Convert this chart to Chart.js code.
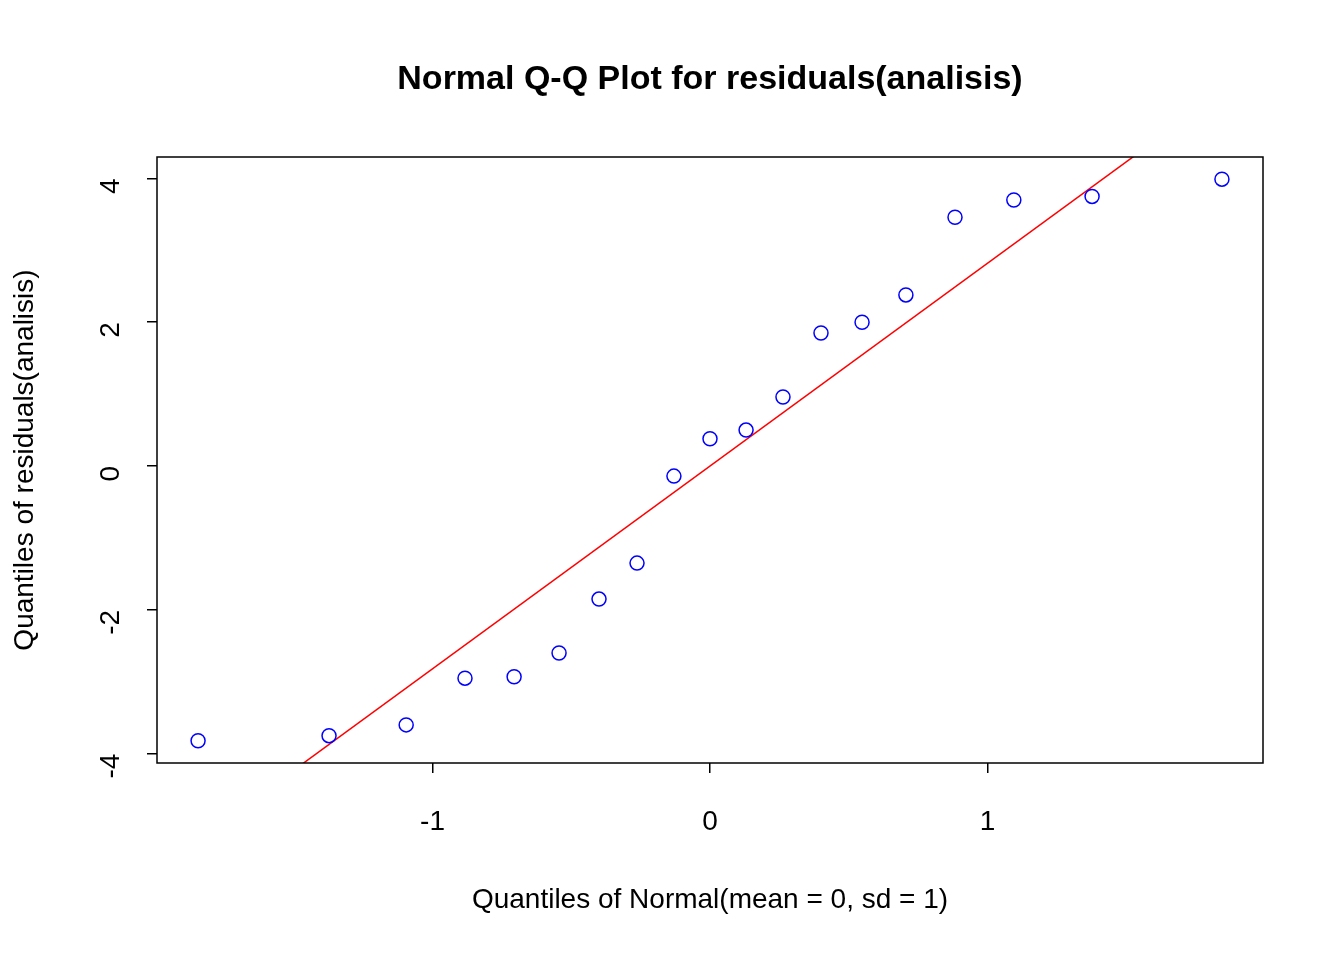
<!DOCTYPE html>
<html>
<head>
<meta charset="utf-8">
<script src="https://cdn.jsdelivr.net/npm/chart.js@4"></script>
<style>
  body { margin: 0; background: #fff; }
  #wrap { width: 1344px; height: 960px; }
</style>
</head>
<body>
<div id="wrap"><canvas id="myChart"></canvas></div>
<script>
// theoretical quantiles and sample residuals
var theoretical = [-1.845, -1.373, -1.095, -0.883, -0.706, -0.544, -0.400, -0.263, -0.130, 0,
  0.130, 0.263, 0.400, 0.548, 0.706, 0.883, 1.095, 1.377, 1.845];
var residuals = [-3.82, -3.75, -3.60, -2.95, -2.93, -2.60, -1.85, -1.35, -0.14, 0.38,
  0.50, 0.96, 1.85, 2.00, 2.38, 3.46, 3.70, 3.75, 3.99];
var lineX = [-2, 2];
var lineY = [-5.64, 5.64];
var xTicks = [-1, 0, 1];
var yTicks = [-4, -2, 0, 2, 4];

var pts = theoretical.map(function (v, i) { return { x: v, y: residuals[i] } })
var ref = lineX.map(function (v, i) { return { x: v, y: lineY[i] } })

var frame = {
  id: 'frame',
  afterDraw: function (chart) {
    var c = chart.ctx, a = chart.chartArea
    c.save()
    c.strokeStyle = '#000'
    c.lineWidth = 1.5
    c.strokeRect(a.left, a.top, a.right - a.left, a.bottom - a.top)
    c.fillStyle = '#000'
    c.font = 'bold 34px "Liberation Sans", Arial, sans-serif'
    c.textAlign = 'center'
    c.textBaseline = 'middle'
    c.fillText('Normal Q-Q Plot for residuals(analisis)', (a.left + a.right) / 2, 80)
    c.restore()
  }
}

const ctx = document.getElementById('myChart');

new Chart(ctx, {
  type: 'scatter',
  data: {
    datasets: [{
      data: pts,
      showLine: false,
      pointStyle: 'circle',
      pointRadius: 7,
      borderColor: '#0000ff',
      backgroundColor: 'rgba(0,0,0,0)',
      borderWidth: 1.5
    }, {
      type: 'line',
      data: ref,
      borderColor: '#ff0000',
      borderWidth: 1.5,
      pointRadius: 0,
      fill: false
    }]
  },
  options: {
    responsive: true,
    maintainAspectRatio: false,
    animation: false,
    layout: { padding: { top: 157, right: 81, left: 0, bottom: 0 } },
    plugins: { legend: { display: false }, tooltip: { enabled: false } },
    scales: {
      x: {
        type: 'linear', min: -1.993, max: 1.993,
        afterFit: function (s) { s.height = 197 },
        afterBuildTicks: function (s) { s.ticks = xTicks.map(function (v) { return { value: v } }) },
        grid: { drawOnChartArea: false, tickLength: 10, color: '#000', lineWidth: 1.5 },
        border: { display: false },
        ticks: { color: '#000', padding: 32, font: { size: 28, family: '"Liberation Sans", Arial' } },
        title: { display: true, text: 'Quantiles of Normal(mean = 0, sd = 1)', color: '#000',
          padding: { bottom: 43 }, font: { size: 28, family: '"Liberation Sans", Arial' } }
      },
      y: {
        type: 'linear', min: -4.13, max: 4.298,
        afterFit: function (s) { s.width = 157 },
        afterBuildTicks: function (s) { s.ticks = yTicks.map(function (v) { return { value: v } }) },
        grid: { drawOnChartArea: false, tickLength: 10, color: '#000', lineWidth: 1.5 },
        border: { display: false },
        ticks: { color: '#000', padding: 36, minRotation: 90, maxRotation: 90,
          font: { size: 28, family: '"Liberation Sans", Arial' } },
        title: { display: true, text: 'Quantiles of residuals(analisis)', color: '#000',
          padding: { top: 8 }, font: { size: 28, family: '"Liberation Sans", Arial' } }
      }
    }
  },
  plugins: [frame]
});
</script>
</body>
</html>
